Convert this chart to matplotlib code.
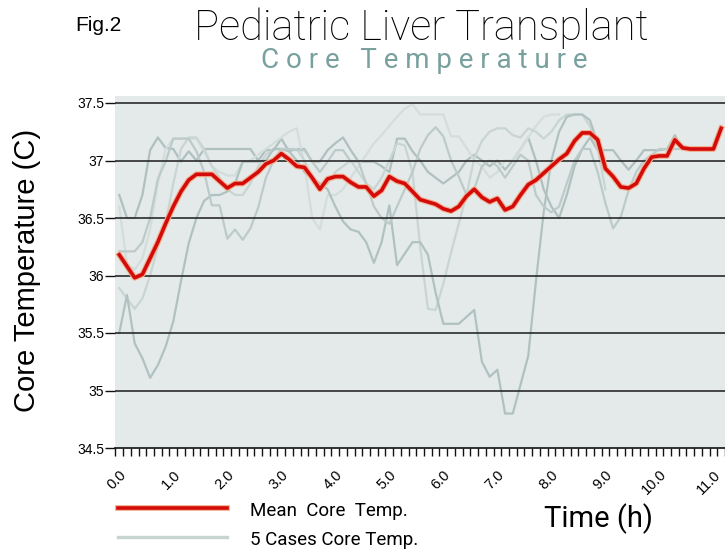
import numpy as np
import matplotlib.pyplot as plt
from matplotlib import patheffects as pe

# ==============================
# DATA
# ==============================
hour_labels = ["0.0", "1.0", "2.0", "3.0", "4.0", "5.0", "6.0", "7.0", "8.0", "9.0", "10.0", "11.0"]
steps_per_hour = 7

mean_temp = [
    36.18, 36.08, 35.98, 36.01, 36.15, 36.29, 36.45, 36.60, 36.73, 36.83,
    36.88, 36.88, 36.88, 36.82, 36.76, 36.80, 36.80, 36.85, 36.90, 36.97,
    37.00, 37.06, 37.01, 36.95, 36.94, 36.85, 36.75, 36.84, 36.86, 36.86,
    36.81, 36.77, 36.77, 36.69, 36.74, 36.86, 36.82, 36.80, 36.73, 36.66,
    36.64, 36.62, 36.58, 36.56, 36.60, 36.69, 36.75, 36.68, 36.64, 36.67,
    36.57, 36.60, 36.70, 36.79, 36.83, 36.89, 36.95, 37.01, 37.06, 37.17,
    37.24, 37.24, 37.18, 36.93, 36.86, 36.77, 36.76, 36.80, 36.93, 37.03,
    37.04, 37.04, 37.18, 37.11, 37.10, 37.10, 37.10, 37.10, 37.28,
]

# individual cases (recordings stop at different times)
case_1 = [
    36.70, 36.50, 36.50, 36.70, 37.09, 37.20, 37.11, 37.10, 36.99, 37.08,
    37.00, 37.10, 37.10, 37.10, 37.10, 37.10, 37.10, 37.10, 37.00, 37.09,
    37.09, 37.19, 37.08, 37.10, 37.10, 36.99, 36.99, 37.09, 37.15, 37.20,
    37.09, 36.99, 36.99, 36.99, 36.95, 36.90, 37.19, 37.19, 37.08, 37.00,
    36.90, 36.85, 36.80, 36.85, 36.90, 37.00, 37.05, 37.00, 36.95, 37.00,
    36.92, 37.00, 37.10, 37.20, 37.00, 36.75, 36.60, 36.50, 36.70, 36.95,
    37.10, 37.20, 37.09, 37.09, 37.09, 37.00, 36.92, 37.00, 37.09, 37.09,
    37.09, 37.10, 37.22, 37.10, 37.10, 37.10, 37.10, 37.10, 37.30,
]
case_2 = [
    36.60, 36.10, 36.05, 36.15, 36.40, 36.80, 37.10, 37.19, 37.19, 37.19,
    37.19, 37.08, 36.95, 36.90, 36.87, 36.87, 36.99, 37.00, 37.05, 37.10,
    37.15, 37.20, 37.25, 37.28, 36.96, 36.50, 36.40, 36.70, 36.70, 36.75,
    36.85, 36.95, 37.05, 37.15, 37.22, 37.30, 37.38, 37.45, 37.49, 37.40,
    37.40, 37.40, 37.40, 37.21, 37.21, 37.11, 37.00, 36.95, 36.85, 36.90,
    37.00, 37.00, 37.10, 37.20, 37.30, 37.38, 37.40, 37.40,
]
case_3 = [
    35.89, 35.80, 35.71, 35.80, 36.00, 36.25, 36.45, 36.80, 37.10, 37.20,
    37.20, 37.10, 36.95, 36.85, 36.75, 36.70, 36.70, 36.80, 36.95, 37.05,
    37.10, 37.10, 37.10, 37.10, 37.00, 36.85, 36.75, 36.80, 36.90, 36.95,
    37.00, 36.90, 36.80, 36.75, 36.85, 37.00, 37.15, 37.13, 36.90, 36.25,
    35.71, 35.70, 35.93, 36.20, 36.45, 36.70, 37.02, 37.17, 37.25, 37.28,
    37.28, 37.22, 37.20, 37.28, 37.25, 37.19, 37.25, 37.35, 37.40, 37.40,
    37.40, 37.30, 37.10, 36.75,
]
case_4 = [
    35.50, 35.83, 35.41, 35.28, 35.11, 35.22, 35.38, 35.60, 35.95, 36.28,
    36.50, 36.65, 36.70, 36.70, 36.73, 36.80, 36.99, 36.99, 36.99, 37.00,
    37.10, 37.10, 37.08, 37.00, 36.90, 36.85, 36.80, 36.75, 36.60, 36.47,
    36.40, 36.38, 36.29, 36.11, 36.29, 36.61, 36.09, 36.19, 36.29, 36.29,
    36.18, 35.85, 35.58, 35.58, 35.58, 35.64, 35.70, 35.25, 35.12, 35.18,
    34.80, 34.80, 35.05, 35.30, 35.95, 36.55, 37.00, 37.25, 37.38, 37.40,
    37.40, 37.35, 37.15,
]
case_5 = [
    36.21, 36.21, 36.21, 36.29, 36.50, 36.84, 36.99, 37.19, 37.19, 37.19,
    37.08, 36.90, 36.61, 36.61, 36.32, 36.40, 36.31, 36.41, 36.59, 36.85,
    37.00, 37.10, 37.10, 37.09, 37.09, 36.99, 36.90, 36.99, 37.09, 37.09,
    36.99, 36.99, 36.80, 36.60, 36.50, 36.45, 36.60, 36.75, 36.90, 37.10,
    37.22, 37.29, 37.21, 37.00, 36.86, 36.70, 36.75, 36.95, 37.00, 36.95,
    36.85, 36.95, 37.05, 37.00, 36.70, 36.60, 36.55, 36.60, 36.80, 37.00,
    37.10, 37.10, 36.90, 36.63, 36.41, 36.51, 36.74, 36.90, 37.00, 37.05,
    37.10, 37.10, 37.10, 37.10, 37.10, 37.10, 37.10, 37.10, 37.30,
]
cases = [case_1, case_2, case_3, case_4, case_5]
case_colors = ["#afc0bf", "#d3dddb", "#c8d5d3", "#b0c2c0", "#bccbc9"]

y_ticks = [34.5, 35.0, 35.5, 36.0, 36.5, 37.0, 37.5]
y_tick_labels = ["34.5", "35", "35.5", "36", "36.5", "37", "37.5"]

W, H = 725, 549

# ==============================
# FIGURE
# ==============================
fig = plt.figure(figsize=(W / 100, H / 100), dpi=100)
ax = fig.add_axes([115.4 / W, 1 - 448 / H, (W - 115.4) / W, (448 - 96) / H])
ax.set_facecolor("#e4eaea")

for c, col in zip(cases, case_colors):
    ax.plot(np.arange(len(c)), c, color=col, lw=1.6, solid_joinstyle="round", zorder=2)

halo = [pe.Stroke(linewidth=4.2, foreground="#f2b08e"), pe.Normal()]
ax.plot(np.arange(len(mean_temp)), mean_temp, color="#d30b0b", lw=2.6, zorder=4,
        solid_joinstyle="round", path_effects=halo)

for yv in y_ticks[1:]:
    ax.axhline(yv, color="#2a2a2a", lw=1.2, zorder=3)

ax.set_ylim(34.5, 37.5 + 7 / 115)
ax.set_xlim(-0.5, 78.5)

for s in ["top", "right", "left"]:
    ax.spines[s].set_visible(False)
ax.spines["bottom"].set_color("#111111")
ax.spines["bottom"].set_linewidth(1.2)

ax.set_yticks(y_ticks)
ax.set_yticklabels(y_tick_labels, fontsize=10, family="Liberation Sans")
ax.tick_params(axis="y", length=7, width=1, color="#111111", pad=1)

ax.set_xticks(np.arange(-0.5, 79, 1))
ax.set_xticklabels([])
ax.tick_params(axis="x", which="major", length=6, width=1, color="#111111")
ax.set_xticks(np.arange(0, 78, steps_per_hour), minor=True)
ax.set_xticklabels(hour_labels, minor=True, rotation=45, ha="right",
                   rotation_mode="anchor", fontsize=10.5, family="Liberation Sans")
ax.tick_params(axis="x", which="minor", length=0, pad=14)

fig.text(27 / W, 1 - 270 / H, "Core Temperature (C)", rotation=90,
         ha="center", va="center", fontsize=21, family="Liberation Sans")

# titles
fig.text(75 / W, 1 - 31 / H, "Fig.2", fontsize=15, va="baseline",
         family="Liberation Sans")
fig.text(421 / W, 1 - 40 / H, "Pediatric Liver Transplant", ha="center",
         va="baseline", fontsize=30, family="Roboto", weight="light")
fig.text(424 / W, 1 - 68 / H, "C o r e   T e m p e r a t u r e", ha="center",
         va="baseline", fontsize=20, family="Roboto", weight="normal",
         color="#78a09d")
fig.text(598 / W, 1 - 527 / H, "Time (h)", ha="center", va="baseline",
         fontsize=21, family="Roboto")

# legend (drawn in pixel coords)
lg = fig.add_axes([0, 0, 1, 1], facecolor="none")
lg.set_xlim(0, W)
lg.set_ylim(H, 0)
lg.axis("off")
lg.plot([118, 227], [508, 508], color="#d30b0b", lw=2.6, path_effects=halo)
lg.plot([118, 227], [537, 537], color="#c8d4d2", lw=2.4)
lg.text(250, 516, "Mean  Core  Temp.", va="baseline", fontsize=13.5, family="Roboto")
lg.text(250, 545, "5 Cases Core Temp.", va="baseline", fontsize=13.5, family="Roboto")

fig.savefig("out.png", dpi=100)
